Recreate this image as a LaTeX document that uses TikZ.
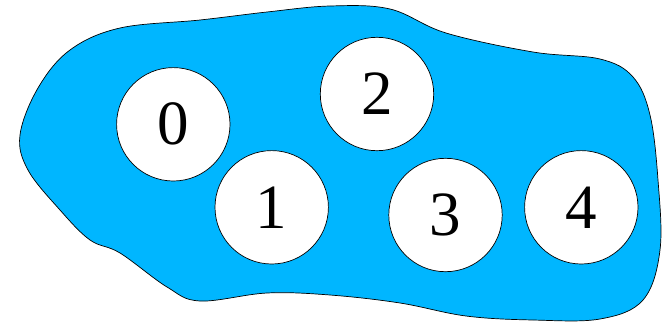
\documentclass[tikz,border=0pt]{standalone}
\usepackage{fontspec}
\setmainfont{Liberation Serif}
\usepackage{tikz}
\usetikzlibrary{positioning}
\usepackage{xcolor}
\definecolor{BlobBlue}{HTML}{00B6FF}

\begin{document}
\begin{tikzpicture}[x=1pt,y=-1pt,
  room/.style={circle,draw=black,fill=white,line width=0.7pt,minimum size=113.4pt,inner sep=0pt,font=\fontsize{63}{63}\selectfont}]
\useasboundingbox (0,0) rectangle (666,322);
% the blob
\draw[fill=BlobBlue,line width=0.7pt] plot[smooth cycle,tension=0.6] coordinates {
  (20,135) (38,88) (70,50) (120,28) (200,20) (267,12) (330,6)
  (390,9) (446,33) (533,52) (600,59) (633,77) (650,115) (658,180)
  (660,250) (643,300) (600,319) (533,320) (466,316) (400,303)
  (330,295) (267,293) (200,301) (167,287) (120,253) (90,240)
  (60,210) (28,170)};
\node[room] (r0) at (173.3,124.3) {0};
\node[room] (r1) at (271.7,207.3) {1};
\node[room] (r2) at (377,94) {2};
\node[room] (r3) at (445.5,215) {3};
\node[room] (r4) at (581.3,207.3) {4};
\end{tikzpicture}
\end{document}
